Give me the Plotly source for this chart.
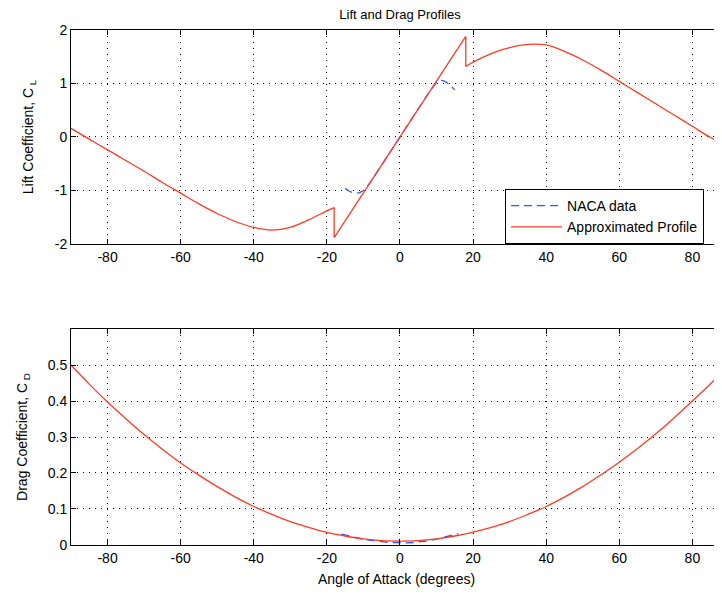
import plotly.graph_objects as go
from plotly.subplots import make_subplots

# ---------------- data ----------------
# Lift, approximated profile, in three pieces (post-stall negative, linear + stall jumps, post-stall positive)
alpha_cl_neg = [-90, -85, -80, -75, -70, -65, -60, -55, -50, -45, -40, -35, -30, -25, -20, -18]
cl_neg = [0.16, -0.04, -0.24, -0.44, -0.64, -0.85, -1.05, -1.25, -1.43, -1.58, -1.69, -1.74, -1.69, -1.55, -1.38, -1.32]
alpha_cl_lin = [-18, -18, 18, 18]
cl_lin = [-1.32, -1.88, 1.88, 1.32]
alpha_cl_pos = [18, 20, 25, 30, 35, 40, 45, 50, 55, 60, 65, 70, 75, 80, 85, 90]
cl_pos = [1.32, 1.40, 1.56, 1.67, 1.73, 1.72, 1.60, 1.44, 1.25, 1.04, 0.83, 0.62, 0.41, 0.20, -0.01, -0.17]

alpha_naca_cl = [-15, -14, -13, -12, -11, -10, -9, -8, -6, -4, -2, 0, 2, 4, 6, 8, 10, 11, 12, 13, 14, 15]
cl_naca = [-0.96, -1.01, -1.04, -1.05, -1.04, -1.0, -0.93, -0.84, -0.63, -0.42, -0.21, 0.0,
           0.21, 0.42, 0.63, 0.84, 1.02, 1.06, 1.05, 1.01, 0.95, 0.88]

alpha_cd = [-90, -85, -80, -75, -70, -65, -60, -55, -50, -45, -40, -35, -30, -25, -20, -15, -10, -5, 0,
            5, 10, 15, 20, 25, 30, 35, 40, 45, 50, 55, 60, 65, 70, 75, 80, 85, 90]
cd_approx = [0.500, 0.447, 0.397, 0.351, 0.307, 0.266, 0.228, 0.194, 0.162, 0.133, 0.107, 0.085, 0.065, 0.049, 0.035, 0.025, 0.017, 0.012, 0.011,
             0.012, 0.017, 0.025, 0.036, 0.049, 0.065, 0.085, 0.107, 0.133, 0.162, 0.195, 0.230, 0.268, 0.309, 0.353, 0.400, 0.448, 0.500]

alpha_naca_cd = [-16, -14, -12, -10, -8, -6, -4, -2, 0, 2, 4, 6, 8, 10, 12, 14, 16]
cd_naca = [0.030, 0.025, 0.020, 0.016, 0.013, 0.010, 0.008, 0.007, 0.006, 0.006, 0.007, 0.009, 0.012, 0.016, 0.022, 0.027, 0.031]

x_ticks = [-80, -60, -40, -20, 0, 20, 40, 60, 80]
x_tick_labels = ["-80", "-60", "-40", "-20", "0", "20", "40", "60", "80"]
cl_ticks = [-2, -1, 0, 1, 2]
cl_tick_labels = ["-2", "-1", "0", "1", "2"]
cd_ticks = [0, 0.1, 0.2, 0.3, 0.4, 0.5]
cd_tick_labels = ["0", "0.1", "0.2", "0.3", "0.4", "0.5"]

# ---------------- figure ----------------
RED = "#ff3a22"
BLUE = "#2f55ff"
FONT = "Liberation Sans, Arial, sans-serif"

fig = make_subplots(rows=2, cols=1)

fig.add_trace(go.Scatter(x=alpha_naca_cl, y=cl_naca, mode="lines", name="NACA data", legendgroup="naca",
                         line=dict(color=BLUE, width=1.3, dash="8px,5px")), row=1, col=1)
fig.add_trace(go.Scatter(x=alpha_cl_lin, y=cl_lin, mode="lines", name="Approximated Profile",
                         legendgroup="approx", line=dict(color=RED, width=1.3)), row=1, col=1)
fig.add_trace(go.Scatter(x=alpha_cl_neg, y=cl_neg, mode="lines", name="Approximated Profile", showlegend=False,
                         legendgroup="approx", line=dict(color=RED, width=1.3, shape="spline")), row=1, col=1)
fig.add_trace(go.Scatter(x=alpha_cl_pos, y=cl_pos, mode="lines", name="Approximated Profile", showlegend=False,
                         legendgroup="approx", line=dict(color=RED, width=1.3, shape="spline")), row=1, col=1)
fig.add_trace(go.Scatter(x=alpha_naca_cd, y=cd_naca, mode="lines", name="NACA data", showlegend=False,
                         legendgroup="naca", line=dict(color=BLUE, width=1.3, dash="8px,5px")), row=2, col=1)
fig.add_trace(go.Scatter(x=alpha_cd, y=cd_approx, mode="lines", name="Approximated Profile", showlegend=False,
                         legendgroup="approx", line=dict(color=RED, width=1.3, shape="spline")), row=2, col=1)

axis_common = dict(showline=True, linecolor="black", linewidth=1, ticks="inside", ticklen=5,
                   tickcolor="black", showgrid=True, gridcolor="black", gridwidth=1, griddash="1px,5px",
                   zeroline=False, automargin=False,
                   tickfont=dict(size=14, color="black", family=FONT))

fig.update_xaxes(range=[-90, 88.1], tickvals=x_ticks, ticktext=x_tick_labels, mirror="ticks", **axis_common)
fig.update_yaxes(mirror=False, **axis_common)

fig.update_xaxes(title=dict(text="Angle of Attack (degrees)", font=dict(size=14, family=FONT, color="black"),
                            standoff=9), row=2, col=1)
fig.update_yaxes(range=[-2, 2], tickvals=cl_ticks, ticktext=cl_tick_labels, domain=[0.5845, 1.0],
                 title=dict(text="Lift Coefficient, C<sub> L</sub>", font=dict(size=14, family=FONT, color="black"),
                            standoff=17), row=1, col=1)
fig.update_yaxes(range=[0, 0.6], tickvals=cd_ticks, ticktext=cd_tick_labels, domain=[0.0, 0.4194],
                 title=dict(text="Drag Coefficient, C<sub> D</sub>", font=dict(size=14, family=FONT, color="black"),
                            standoff=16), row=2, col=1)

# the page body adds an 8px offset; size and margins compensate so the plot areas land
# where the reference has them and the page does not overflow the window
fig.update_layout(
    width=714, height=579,
    margin=dict(l=63, r=0, t=22, b=42),
    paper_bgcolor="white", plot_bgcolor="white",
    font=dict(family=FONT, size=14, color="black"),
    title=dict(text="Lift and Drag Profiles", x=392 / 714, xanchor="center", xref="container",
               y=1 - 6.5 / 579, yanchor="middle", yref="container",
               font=dict(size=13, family=FONT, color="black")),
    legend=dict(x=0.6667, xanchor="left", y=0.5845, yanchor="bottom", bgcolor="white",
                bordercolor="black", borderwidth=1, font=dict(size=14, family=FONT, color="black"),
                itemwidth=51, tracegroupgap=0),
    showlegend=True,
)

fig.write_html("out.html")
